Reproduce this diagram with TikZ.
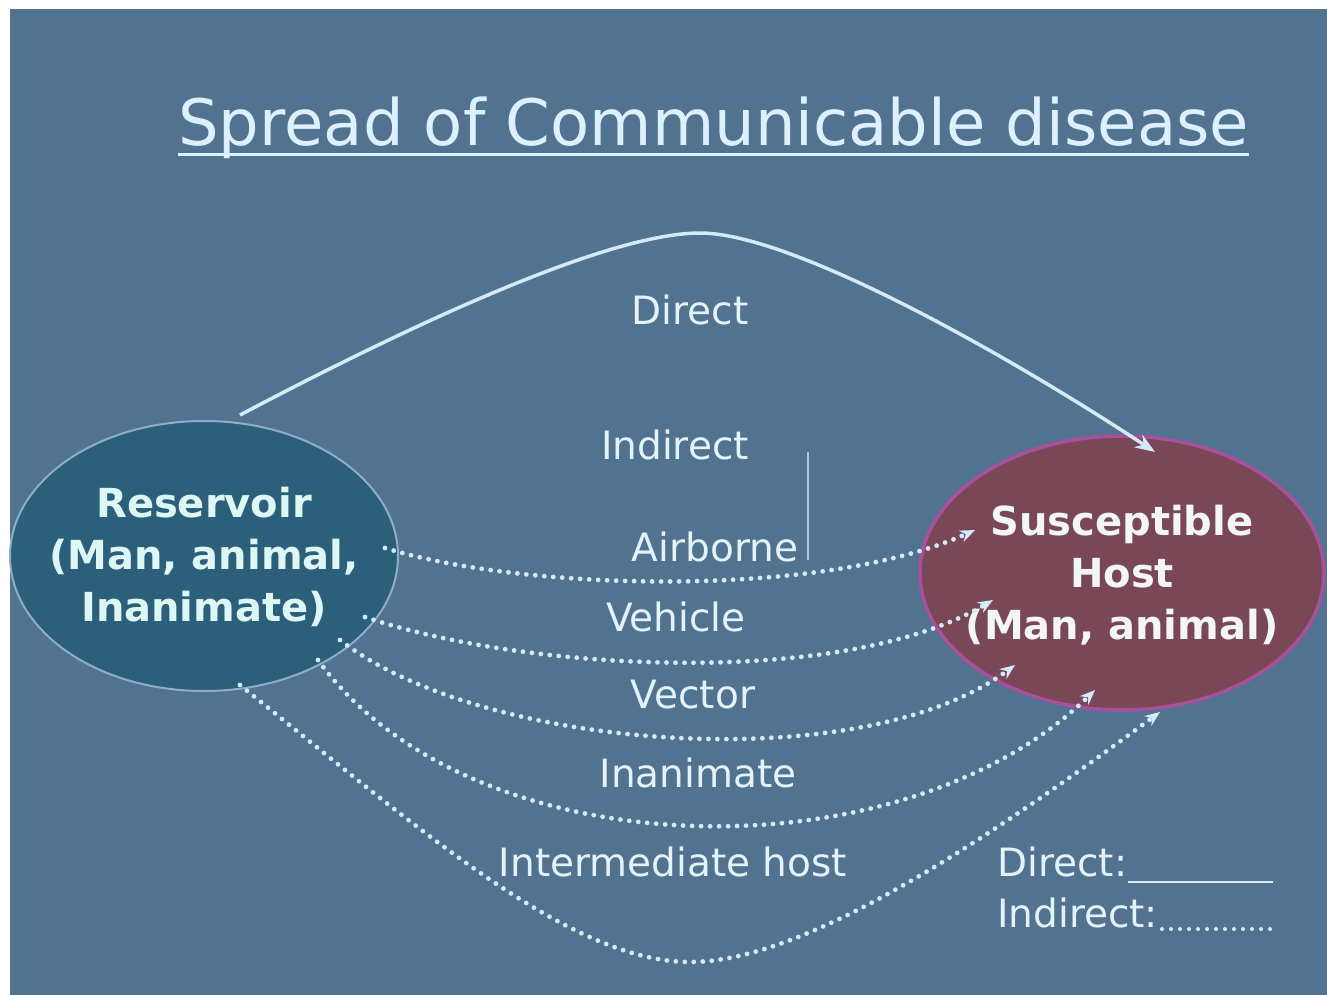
\documentclass[tikz,border=0pt]{standalone}
\usepackage{fontspec}
\setmainfont{DejaVu Sans}
\usetikzlibrary{shapes.geometric,arrows.meta,calc}
\definecolor{bgblue}{HTML}{52738F}
\definecolor{titlecol}{HTML}{DCF0FF}
\definecolor{labelcol}{HTML}{E4F2FB}
\definecolor{curvecol}{HTML}{D3EAF8}
\definecolor{bracketcol}{HTML}{A9C6DA}
\definecolor{resfill}{HTML}{2B5F7A}
\definecolor{resline}{HTML}{8DAEC6}
\definecolor{hostfill}{HTML}{7A4757}
\definecolor{hostline}{HTML}{A9509C}
\definecolor{restext}{HTML}{DDF7F5}
\definecolor{hosttext}{HTML}{F2F6F6}
\begin{document}
\begin{tikzpicture}[x=1pt,y=-1pt,
  lbl/.style={text=labelcol, font=\fontsize{39}{46}\selectfont, inner sep=0pt},
  boxtext/.style={font=\bfseries\fontsize{40}{52}\selectfont, align=center, inner sep=0pt},
  directline/.style={draw=curvecol, line width=3.5pt, -{Stealth[length=20pt,width=15pt]}},
  dotline/.style={draw=curvecol, line width=4.8pt, line cap=round, dash pattern=on 0pt off 9pt, -{Stealth[length=15pt,width=12pt]}},
  resshape/.style={ellipse, draw=resline, line width=2pt, fill=resfill, minimum width=388pt, minimum height=270pt, inner sep=0pt},
  hostshape/.style={ellipse, draw=hostline, line width=3.5pt, fill=hostfill, minimum width=404pt, minimum height=274pt, inner sep=0pt}]
\useasboundingbox (0,0) rectangle (1327,995);
\fill[white] (0,0) rectangle (1327,995);
\fill[bgblue] (10,9) rectangle (1327,995);

% title
\node[anchor=base west, inner sep=0pt, text=titlecol, font=\fontsize{64}{70}\selectfont] (title) at (178,146) {Spread of Communicable disease};
\draw[titlecol, line width=3pt] ($(title.base west)+(0,9)$) -- ($(title.base east)+(0,9)$);

% ellipses
\node[resshape] (res) at (204,556) {};
\node[hostshape] (host) at (1122,573) {};
\node[boxtext, text=restext] (resT) at (204,557) {Reservoir\\(Man, animal,\\Inanimate)};
\node[boxtext, text=hosttext] (hostT) at (1122,575) {Susceptible\\Host\\(Man, animal)};

% labels
\node[lbl] (lDirect) at (690,310) {Direct};
\node[lbl] (lIndirect) at (675,445) {Indirect};
\node[lbl] (lAir) at (715,547) {Airborne};
\node[lbl] (lVeh) at (676,617) {Vehicle};
\node[lbl] (lVec) at (693,695) {Vector};
\node[lbl] (lInan) at (698,773) {Inanimate};
\node[lbl] (lInter) at (673,862) {Intermediate host};

% bracket line near Indirect
\coordinate (brTop) at (808,452);
\coordinate (brBot) at (808,560);
\draw[bracketcol, line width=2pt] (brTop) -- (brBot);

% direct curve
\draw[directline] ($(res.center)+(36,-141)$) .. controls (420,320) and (610,233) .. (700,233)
  .. controls (790,233) and (1000,350) .. ($(host.center)+(33,-121)$);

% indirect curves
\draw[dotline] ($(res.center)+(181,-8)$) .. controls (520,590) and (820,600) .. ($(host.center)+(-147,-43)$);
\draw[dotline] ($(res.center)+(161,61)$) .. controls (520,670) and (840,690) .. ($(host.center)+(-129,27)$);
\draw[dotline] ($(res.center)+(136,84)$) .. controls (480,750) and (860,780) .. ($(host.center)+(-107,92)$);
\draw[dotline] ($(res.center)+(114,104)$) .. controls (470,870) and (900,880) .. ($(host.center)+(-27,117)$);
\draw[dotline] ($(res.center)+(36,129)$) .. controls (420,830) and (570,962) .. (690,962)
  .. controls (810,962) and (1000,830) .. ($(host.center)+(38,139)$);

% legend
\node[lbl, anchor=west] (legD) at (997,862) {Direct:};
\node[lbl, anchor=west] (legI) at (997,913) {Indirect:};
\coordinate (legDa) at (1128,882);
\coordinate (legDb) at (1273,882);
\coordinate (legIa) at (1162,929);
\coordinate (legIb) at (1272,929);
\draw[curvecol, line width=2.5pt] (legDa) -- (legDb);
\draw[curvecol, line width=4pt, line cap=round, dash pattern=on 0pt off 9pt] (legIa) -- (legIb);
\end{tikzpicture}
\end{document}
